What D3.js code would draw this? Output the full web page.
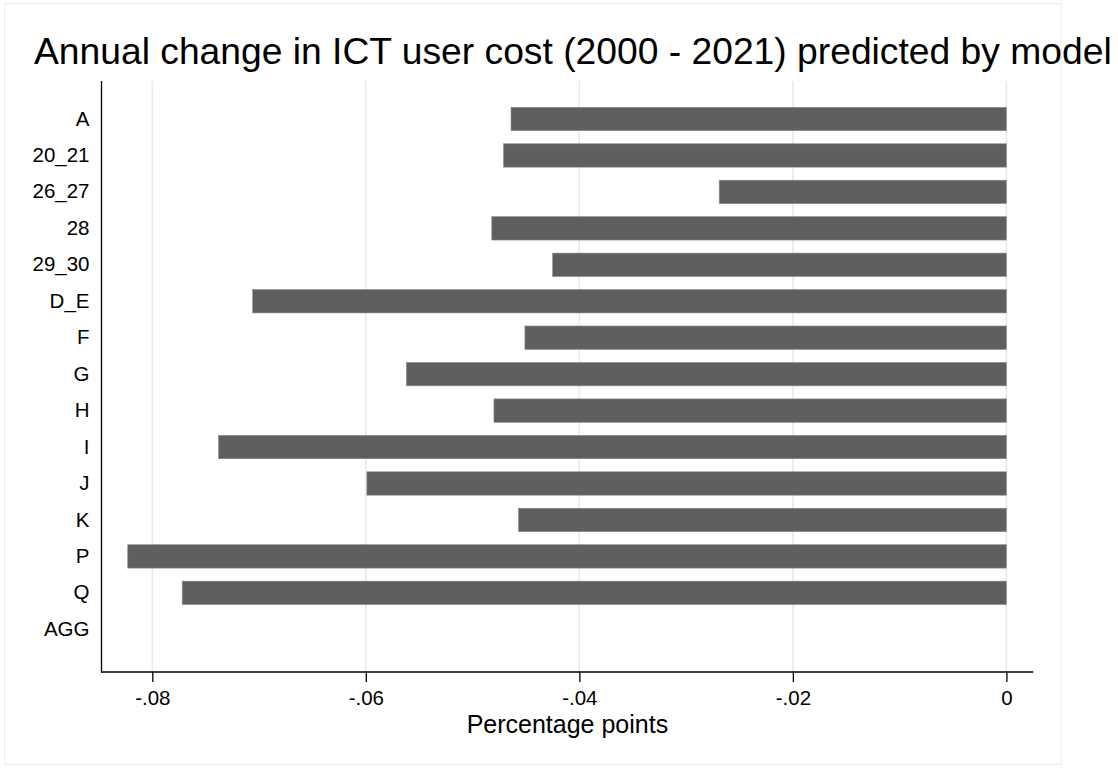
<!DOCTYPE html>
<html>
<head>
<meta charset="utf-8">
<script src="https://cdn.jsdelivr.net/npm/d3@7"></script>
<style>
  html, body { margin: 0; padding: 0; background: #fff; }
  svg { display: block; font-family: "Liberation Sans", Arial, sans-serif; }
</style>
</head>
<body>
<svg id="chart" width="1118" height="770"></svg>
<script>
const categories = ["A", "20_21", "26_27", "28", "29_30", "D_E", "F", "G", "H", "I", "J", "K", "P", "Q", "AGG"];
const values = [-0.0464, -0.0471, -0.0269, -0.0482, -0.0425, -0.0706, -0.0451, -0.0562, -0.0480, -0.0738, -0.0599, -0.0457, -0.0823, -0.0772, 0];
const xTicks = [-0.08, -0.06, -0.04, -0.02, 0];
const xTickLabels = ["-.08", "-.06", "-.04", "-.02", "0"];
const title = "Annual change in ICT user cost (2000 - 2021) predicted by model";
const xTitle = "Percentage points";

const svg = d3.select("#chart");
const plotLeft = 101.5, plotRight = 1033.3, plotTop = 81, plotBottom = 672;

// outer graph-region frame
svg.append("rect")
  .attr("x", 4.5).attr("y", 3.5).attr("width", 1056.5).attr("height", 761)
  .attr("fill", "none").attr("stroke", "#ececec").attr("stroke-width", 1);

const x = d3.scaleLinear().domain([-0.08, 0]).range([152.3, 1006.4]);
const step = 36.45;
const y = d3.scaleBand().domain(categories)
  .range([119 - step / 2, 119 - step / 2 + step * categories.length])
  .padding(0);
const barH = 23.4;

// gridlines
svg.append("g").selectAll("line").data(xTicks).join("line")
  .attr("x1", d => x(d)).attr("x2", d => x(d))
  .attr("y1", plotTop).attr("y2", plotBottom)
  .attr("stroke", "#e9e9e9").attr("stroke-width", 1.6);

// bars
svg.append("g").selectAll("rect").data(categories.map((c, i) => ({c, v: values[i]})))
  .join("rect")
  .attr("x", d => x(Math.min(0, d.v)))
  .attr("width", d => Math.abs(x(d.v) - x(0)))
  .attr("y", d => y(d.c) + (y.bandwidth() - barH) / 2)
  .attr("height", barH)
  .attr("fill", "#5f5f5f")
  .attr("stroke", d => d.v === 0 ? "none" : "#8c8c8c")
  .attr("stroke-width", 0.6);

// axis lines
svg.append("line").attr("x1", plotLeft).attr("x2", plotLeft)
  .attr("y1", plotTop).attr("y2", plotBottom + 0.6)
  .attr("stroke", "#000").attr("stroke-width", 1.3);
svg.append("line").attr("x1", plotLeft - 0.6).attr("x2", plotRight)
  .attr("y1", plotBottom).attr("y2", plotBottom)
  .attr("stroke", "#000").attr("stroke-width", 1.3);

// x axis via d3.axisBottom
const xAxis = d3.axisBottom(x).tickValues(xTicks)
  .tickFormat((d, i) => xTickLabels[i]).tickSize(10).tickPadding(8);
const gx = svg.append("g").attr("transform", `translate(0,${plotBottom})`).call(xAxis);
gx.select(".domain").remove();
gx.selectAll(".tick line").attr("stroke", "#000").attr("stroke-width", 1.3);
gx.selectAll(".tick text").attr("font-size", 20.5).attr("fill", "#000")
  .attr("font-family", "'Liberation Sans', Arial, sans-serif").attr("dy", "0.71em");

// y labels
const yAxis = d3.axisLeft(y).tickSize(0).tickPadding(12);
const gy = svg.append("g").attr("transform", `translate(${plotLeft},0)`).call(yAxis);
gy.select(".domain").remove();
gy.selectAll(".tick text").attr("font-size", 20.5).attr("fill", "#000")
  .attr("font-family", "'Liberation Sans', Arial, sans-serif");

// x title
svg.append("text").attr("x", (plotLeft + plotRight) / 2).attr("y", 733)
  .attr("text-anchor", "middle").attr("font-size", 25).attr("fill", "#000")
  .text(xTitle);

// title, fitted to span
const t = svg.append("text").attr("x", 34).attr("y", 64)
  .attr("font-size", 30).attr("fill", "#000").text(title);
const w = t.node().getComputedTextLength();
t.attr("font-size", 30 * 1078 / w);
</script>
</body>
</html>
